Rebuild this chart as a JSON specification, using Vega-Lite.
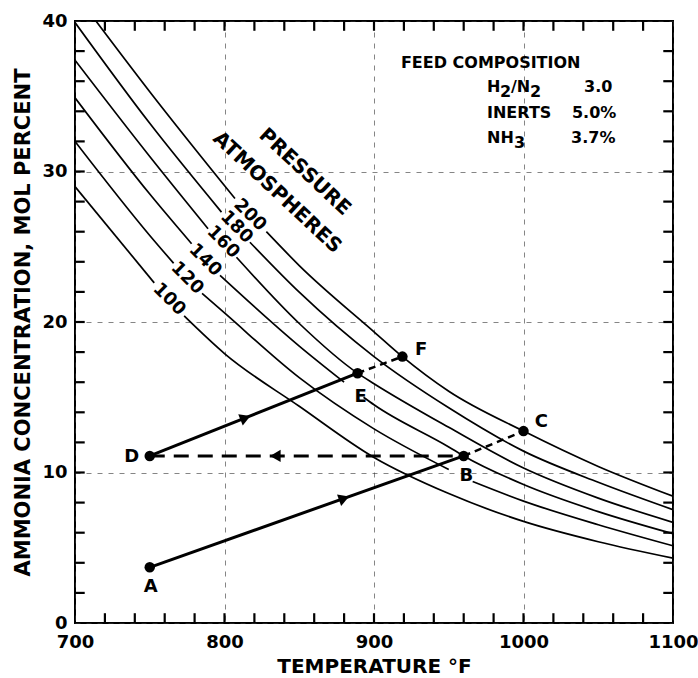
{
  "$schema": "https://vega.github.io/schema/vega-lite/v6.json",
  "width": 598,
  "height": 602,
  "autosize": "none",
  "padding": {"left": 75, "top": 21, "right": 25, "bottom": 55},
  "background": "white",
  "config": {"view": {"stroke": "black", "strokeWidth": 2}, "font": "DejaVu Sans"},
  "datasets": {
    "curves": [
      {"p": 200, "s": "200a", "t": 714, "c": 40},
      {"p": 200, "s": "200a", "t": 750, "c": 35.3},
      {"p": 200, "s": "200a", "t": 807, "c": 28.2},
      {"p": 200, "s": "200b", "t": 828, "c": 26.0},
      {"p": 200, "s": "200b", "t": 850, "c": 23.75},
      {"p": 200, "s": "200b", "t": 900, "c": 19.35},
      {"p": 200, "s": "200b", "t": 919, "c": 17.7},
      {"p": 200, "s": "200b", "t": 950, "c": 15.4},
      {"p": 200, "s": "200b", "t": 1000, "c": 12.75},
      {"p": 200, "s": "200b", "t": 1050, "c": 10.4},
      {"p": 200, "s": "200b", "t": 1100, "c": 8.42},
      {"p": 180, "s": "180a", "t": 700, "c": 39.9},
      {"p": 180, "s": "180a", "t": 750, "c": 33.2},
      {"p": 180, "s": "180a", "t": 798, "c": 27.3},
      {"p": 180, "s": "180b", "t": 817, "c": 25.3},
      {"p": 180, "s": "180b", "t": 850, "c": 21.98},
      {"p": 180, "s": "180b", "t": 900, "c": 17.7},
      {"p": 180, "s": "180b", "t": 950, "c": 14.3},
      {"p": 180, "s": "180b", "t": 1000, "c": 11.42},
      {"p": 180, "s": "180b", "t": 1050, "c": 9.35},
      {"p": 180, "s": "180b", "t": 1100, "c": 7.53},
      {"p": 160, "s": "160a", "t": 700, "c": 37.4},
      {"p": 160, "s": "160a", "t": 750, "c": 31.0},
      {"p": 160, "s": "160a", "t": 789, "c": 26.2},
      {"p": 160, "s": "160b", "t": 808, "c": 24.3},
      {"p": 160, "s": "160b", "t": 850, "c": 19.9},
      {"p": 160, "s": "160b", "t": 889, "c": 16.6},
      {"p": 160, "s": "160b", "t": 900, "c": 15.9},
      {"p": 160, "s": "160b", "t": 950, "c": 13.0},
      {"p": 160, "s": "160b", "t": 1000, "c": 10.3},
      {"p": 160, "s": "160b", "t": 1050, "c": 8.3},
      {"p": 160, "s": "160b", "t": 1100, "c": 6.69},
      {"p": 140, "s": "140a", "t": 700, "c": 34.9},
      {"p": 140, "s": "140a", "t": 750, "c": 28.5},
      {"p": 140, "s": "140a", "t": 778, "c": 25.2},
      {"p": 140, "s": "140b", "t": 797, "c": 23.1},
      {"p": 140, "s": "140b", "t": 850, "c": 18.4},
      {"p": 140, "s": "140b", "t": 880, "c": 16.0},
      {"p": 140, "s": "140c", "t": 893, "c": 15.0},
      {"p": 140, "s": "140c", "t": 900, "c": 14.5},
      {"p": 140, "s": "140c", "t": 950, "c": 11.7},
      {"p": 140, "s": "140c", "t": 960, "c": 11.1},
      {"p": 140, "s": "140c", "t": 1000, "c": 9.2},
      {"p": 140, "s": "140c", "t": 1050, "c": 7.4},
      {"p": 140, "s": "140c", "t": 1100, "c": 5.93},
      {"p": 120, "s": "120a", "t": 700, "c": 32.0},
      {"p": 120, "s": "120a", "t": 750, "c": 25.75},
      {"p": 120, "s": "120a", "t": 766, "c": 23.9},
      {"p": 120, "s": "120b", "t": 785, "c": 21.9},
      {"p": 120, "s": "120b", "t": 800, "c": 20.6},
      {"p": 120, "s": "120b", "t": 850, "c": 16.3},
      {"p": 120, "s": "120b", "t": 900, "c": 12.9},
      {"p": 120, "s": "120b", "t": 950, "c": 10.2},
      {"p": 120, "s": "120c", "t": 966, "c": 9.4},
      {"p": 120, "s": "120c", "t": 1000, "c": 8.1},
      {"p": 120, "s": "120c", "t": 1050, "c": 6.53},
      {"p": 120, "s": "120c", "t": 1100, "c": 5.13},
      {"p": 100, "s": "100a", "t": 700, "c": 29.0},
      {"p": 100, "s": "100a", "t": 753, "c": 22.6},
      {"p": 100, "s": "100b", "t": 773, "c": 20.4},
      {"p": 100, "s": "100b", "t": 800, "c": 17.9},
      {"p": 100, "s": "100b", "t": 850, "c": 14.4},
      {"p": 100, "s": "100b", "t": 900, "c": 11.0},
      {"p": 100, "s": "100b", "t": 950, "c": 8.6},
      {"p": 100, "s": "100b", "t": 1000, "c": 6.75},
      {"p": 100, "s": "100b", "t": 1050, "c": 5.4},
      {"p": 100, "s": "100b", "t": 1100, "c": 4.31}
    ],
    "xticks": [
      {"t": 720}, {"t": 740}, {"t": 760}, {"t": 780}, {"t": 800}, {"t": 820},
      {"t": 840}, {"t": 860}, {"t": 880}, {"t": 900}, {"t": 920}, {"t": 940}, {"t": 960},
      {"t": 980}, {"t": 1000}, {"t": 1020}, {"t": 1040}, {"t": 1060}, {"t": 1080}
    ],
    "yticks": [
      {"c": 2}, {"c": 4}, {"c": 6}, {"c": 8}, {"c": 10}, {"c": 12}, {"c": 14},
      {"c": 16}, {"c": 18}, {"c": 20}, {"c": 22}, {"c": 24}, {"c": 26}, {"c": 28}, {"c": 30},
      {"c": 32}, {"c": 34}, {"c": 36}, {"c": 38}
    ],
    "curveLabels": [
      {"txt": "200", "t": 817, "c": 27.1},
      {"txt": "180", "t": 808, "c": 26.3},
      {"txt": "160", "t": 799, "c": 25.3},
      {"txt": "140", "t": 787, "c": 24.1},
      {"txt": "120", "t": 775, "c": 22.9},
      {"txt": "100", "t": 763, "c": 21.5}
    ],
    "pressureTitle": [
      {"txt": "PRESSURE", "t": 853.8, "c": 29.97},
      {"txt": "ATMOSPHERES", "t": 835.3, "c": 28.6}
    ],
    "pts": [
      {"name": "A", "t": 750, "c": 3.7},
      {"name": "B", "t": 960, "c": 11.1},
      {"name": "C", "t": 1000, "c": 12.75},
      {"name": "D", "t": 750, "c": 11.1},
      {"name": "E", "t": 889, "c": 16.6},
      {"name": "F", "t": 919, "c": 17.7}
    ],
    "ptLabels": [
      {"txt": "A", "t": 750.7, "c": 2.36},
      {"txt": "B", "t": 961.7, "c": 9.79},
      {"txt": "C", "t": 1012, "c": 13.38},
      {"txt": "D", "t": 737.9, "c": 11.03},
      {"txt": "E", "t": 891, "c": 15.04},
      {"txt": "F", "t": 931.6, "c": 18.14}
    ],
    "paths": [
      {"path": "AB", "t": 750, "c": 3.7},
      {"path": "AB", "t": 960, "c": 11.1},
      {"path": "DE", "t": 750, "c": 11.1},
      {"path": "DE", "t": 889, "c": 16.6},
      {"path": "BD", "t": 960, "c": 11.1},
      {"path": "BD", "t": 750, "c": 11.1},
      {"path": "BC", "t": 960, "c": 11.1},
      {"path": "BC", "t": 1000, "c": 12.75},
      {"path": "EF", "t": 889, "c": 16.6},
      {"path": "EF", "t": 919, "c": 17.7}
    ],
    "arrows": [
      {"path": "AB", "t": 880, "c": 8.28},
      {"path": "DE", "t": 814, "c": 13.63},
      {"path": "BD", "t": 834, "c": 11.1}
    ],
    "comp": [
      {"txt": "FEED COMPOSITION", "t": 918, "c": 37.2},
      {"txt": "H", "t": 975.6, "c": 35.6},
      {"txt": "2", "t": 984.3, "c": 35.25},
      {"txt": "/N", "t": 991.6, "c": 35.6},
      {"txt": "2", "t": 1004.3, "c": 35.25},
      {"txt": "3.0", "t": 1040.5, "c": 35.6},
      {"txt": "INERTS", "t": 975.6, "c": 33.9},
      {"txt": "5.0%", "t": 1032.4, "c": 33.9},
      {"txt": "NH", "t": 975.6, "c": 32.2},
      {"txt": "3", "t": 993.6, "c": 31.9},
      {"txt": "3.7%", "t": 1031.8, "c": 32.2}
    ]
  },
  "layer": [
    {
      "data": {"name": "curves"},
      "mark": {"type": "line", "color": "black", "strokeWidth": 1.7, "interpolate": "monotone", "clip": true},
      "encoding": {
        "x": {
          "field": "t", "type": "quantitative",
          "scale": {"domain": [700, 1100], "nice": false, "zero": false},
          "axis": {
            "orient": "bottom",
            "values": [700, 800, 900, 1000, 1100],
            "format": "d",
            "labelOverlap": false, "labelFlush": false, "labelBound": false,
            "ticks": false,
            "labelPadding": 10,
            "labelFont": "DejaVu Sans", "labelFontWeight": "bold", "labelFontSize": 18, "labelColor": "black",
            "domain": false,
            "grid": true, "gridColor": "#333333", "gridDash": [5, 6], "gridWidth": 1, "gridOpacity": 0.6,
            "title": "TEMPERATURE °F",
            "titleFont": "DejaVu Sans", "titleFontWeight": "bold", "titleFontSize": 20, "titleColor": "black",
            "titlePadding": 5
          }
        },
        "y": {
          "field": "c", "type": "quantitative",
          "scale": {"domain": [0, 40], "nice": false, "zero": false},
          "axis": {
            "orient": "left",
            "values": [0, 10, 20, 30, 40],
            "format": "d",
            "labelOverlap": false, "labelFlush": false, "labelBound": false,
            "ticks": false,
            "labelPadding": 8,
            "labelFont": "DejaVu Sans", "labelFontWeight": "bold", "labelFontSize": 18, "labelColor": "black",
            "domain": false,
            "grid": true, "gridColor": "#333333", "gridDash": [5, 6], "gridWidth": 1, "gridOpacity": 0.6,
            "title": "AMMONIA CONCENTRATION, MOL PERCENT",
            "titleFont": "DejaVu Sans", "titleFontWeight": "bold", "titleFontSize": 21, "titleColor": "black",
            "titlePadding": 8
          }
        },
        "detail": {"field": "s", "type": "nominal"}
      }
    },
    {
      "data": {"name": "xticks"},
      "mark": {"type": "rule", "color": "black", "strokeWidth": 2.2},
      "encoding": {
        "x": {"field": "t", "type": "quantitative", "scale": {"domain": [700, 1100], "nice": false, "zero": false}},
        "y": {"datum": 0, "type": "quantitative", "scale": {"domain": [0, 40], "nice": false, "zero": false}},
        "y2": {"datum": 0.65}
      }
    },
    {
      "data": {"name": "xticks"},
      "mark": {"type": "rule", "color": "black", "strokeWidth": 2.2},
      "encoding": {
        "x": {"field": "t", "type": "quantitative", "scale": {"domain": [700, 1100], "nice": false, "zero": false}},
        "y": {"datum": 40, "type": "quantitative", "scale": {"domain": [0, 40], "nice": false, "zero": false}},
        "y2": {"datum": 39.35}
      }
    },
    {
      "data": {"name": "yticks"},
      "mark": {"type": "rule", "color": "black", "strokeWidth": 2.2},
      "encoding": {
        "y": {"field": "c", "type": "quantitative", "scale": {"domain": [0, 40], "nice": false, "zero": false}},
        "x": {"datum": 700, "type": "quantitative", "scale": {"domain": [700, 1100], "nice": false, "zero": false}},
        "x2": {"datum": 706.5}
      }
    },
    {
      "data": {"name": "yticks"},
      "mark": {"type": "rule", "color": "black", "strokeWidth": 2.2},
      "encoding": {
        "y": {"field": "c", "type": "quantitative", "scale": {"domain": [0, 40], "nice": false, "zero": false}},
        "x": {"datum": 1100, "type": "quantitative", "scale": {"domain": [700, 1100], "nice": false, "zero": false}},
        "x2": {"datum": 1093.5}
      }
    },
    {
      "data": {"name": "pts"},
      "mark": {"type": "point", "filled": true, "color": "black", "size": 110, "opacity": 1},
      "encoding": {
        "x": {"field": "t", "type": "quantitative", "scale": {"domain": [700, 1100], "nice": false, "zero": false}},
        "y": {"field": "c", "type": "quantitative", "scale": {"domain": [0, 40], "nice": false, "zero": false}}
      }
    },
    {
      "data": {"name": "paths"},
      "transform": [{"filter": "datum.path === 'AB' || datum.path === 'DE'"}],
      "mark": {"type": "line", "color": "black", "strokeWidth": 3},
      "encoding": {
        "x": {"field": "t", "type": "quantitative", "scale": {"domain": [700, 1100], "nice": false, "zero": false}},
        "y": {"field": "c", "type": "quantitative", "scale": {"domain": [0, 40], "nice": false, "zero": false}},
        "detail": {"field": "path", "type": "nominal"}
      }
    },
    {
      "data": {"name": "paths"},
      "transform": [{"filter": "datum.path === 'BD'"}],
      "mark": {"type": "line", "color": "black", "strokeWidth": 3, "strokeDash": [15, 9]},
      "encoding": {
        "x": {"field": "t", "type": "quantitative", "scale": {"domain": [700, 1100], "nice": false, "zero": false}},
        "y": {"field": "c", "type": "quantitative", "scale": {"domain": [0, 40], "nice": false, "zero": false}},
        "detail": {"field": "path", "type": "nominal"}
      }
    },
    {
      "data": {"name": "paths"},
      "transform": [{"filter": "datum.path === 'BC' || datum.path === 'EF'"}],
      "mark": {"type": "line", "color": "black", "strokeWidth": 2.5, "strokeDash": [7, 5]},
      "encoding": {
        "x": {"field": "t", "type": "quantitative", "scale": {"domain": [700, 1100], "nice": false, "zero": false}},
        "y": {"field": "c", "type": "quantitative", "scale": {"domain": [0, 40], "nice": false, "zero": false}},
        "detail": {"field": "path", "type": "nominal"}
      }
    },
    {
      "data": {"name": "arrows"},
      "transform": [{"filter": "datum.path === 'AB'"}],
      "mark": {"type": "point", "shape": "triangle-right", "filled": true, "color": "black", "size": 150, "angle": -19.5, "opacity": 1},
      "encoding": {
        "x": {"field": "t", "type": "quantitative", "scale": {"domain": [700, 1100], "nice": false, "zero": false}},
        "y": {"field": "c", "type": "quantitative", "scale": {"domain": [0, 40], "nice": false, "zero": false}}
      }
    },
    {
      "data": {"name": "arrows"},
      "transform": [{"filter": "datum.path === 'DE'"}],
      "mark": {"type": "point", "shape": "triangle-right", "filled": true, "color": "black", "size": 150, "angle": -21.7, "opacity": 1},
      "encoding": {
        "x": {"field": "t", "type": "quantitative", "scale": {"domain": [700, 1100], "nice": false, "zero": false}},
        "y": {"field": "c", "type": "quantitative", "scale": {"domain": [0, 40], "nice": false, "zero": false}}
      }
    },
    {
      "data": {"name": "arrows"},
      "transform": [{"filter": "datum.path === 'BD'"}],
      "mark": {"type": "point", "shape": "triangle-left", "filled": true, "color": "black", "size": 150, "opacity": 1},
      "encoding": {
        "x": {"field": "t", "type": "quantitative", "scale": {"domain": [700, 1100], "nice": false, "zero": false}},
        "y": {"field": "c", "type": "quantitative", "scale": {"domain": [0, 40], "nice": false, "zero": false}}
      }
    },
    {
      "data": {"name": "ptLabels"},
      "mark": {"type": "text", "font": "DejaVu Sans", "fontWeight": "bold", "fontSize": 18, "color": "black", "align": "center", "baseline": "middle"},
      "encoding": {
        "x": {"field": "t", "type": "quantitative", "scale": {"domain": [700, 1100], "nice": false, "zero": false}},
        "y": {"field": "c", "type": "quantitative", "scale": {"domain": [0, 40], "nice": false, "zero": false}},
        "text": {"field": "txt"}
      }
    },
    {
      "data": {"name": "curveLabels"},
      "mark": {"type": "text", "font": "DejaVu Sans", "fontWeight": "bold", "fontSize": 18, "color": "black", "align": "center", "baseline": "middle", "angle": 45},
      "encoding": {
        "x": {"field": "t", "type": "quantitative", "scale": {"domain": [700, 1100], "nice": false, "zero": false}},
        "y": {"field": "c", "type": "quantitative", "scale": {"domain": [0, 40], "nice": false, "zero": false}},
        "text": {"field": "txt"}
      }
    },
    {
      "data": {"name": "pressureTitle"},
      "mark": {"type": "text", "font": "DejaVu Sans", "fontWeight": "bold", "fontSize": 20, "color": "black", "align": "center", "baseline": "middle", "angle": 43},
      "encoding": {
        "x": {"field": "t", "type": "quantitative", "scale": {"domain": [700, 1100], "nice": false, "zero": false}},
        "y": {"field": "c", "type": "quantitative", "scale": {"domain": [0, 40], "nice": false, "zero": false}},
        "text": {"field": "txt"}
      }
    },
    {
      "data": {"name": "comp"},
      "mark": {"type": "text", "font": "DejaVu Sans", "fontWeight": "bold", "fontSize": 16, "color": "black", "align": "left", "baseline": "middle"},
      "encoding": {
        "x": {"field": "t", "type": "quantitative", "scale": {"domain": [700, 1100], "nice": false, "zero": false}},
        "y": {"field": "c", "type": "quantitative", "scale": {"domain": [0, 40], "nice": false, "zero": false}},
        "text": {"field": "txt"}
      }
    }
  ]
}
